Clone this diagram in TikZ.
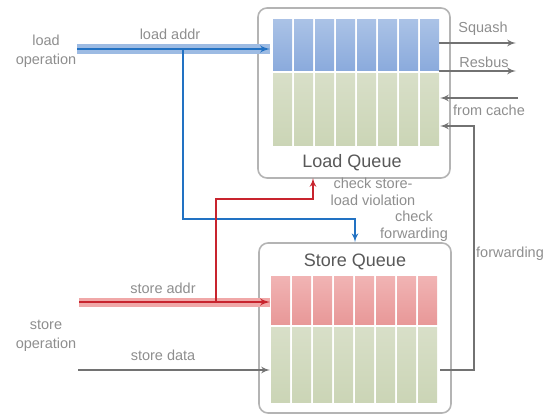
\documentclass[tikz,border=0pt]{standalone}
\usepackage{fontspec}
\setmainfont{Liberation Sans}
\usepackage{tikz}
\usetikzlibrary{arrows,positioning}
\definecolor{txtgray}{HTML}{8E8E8E}
\definecolor{titlegray}{HTML}{585858}
\definecolor{boxgray}{HTML}{B4B4B4}
\definecolor{arrgray}{HTML}{727272}
\definecolor{ldblue}{HTML}{2272C3}
\definecolor{ldband}{HTML}{9DBBE3}
\definecolor{strred}{HTML}{C8242E}
\definecolor{stband}{HTML}{F0A8A8}
\tikzstyle{queue}=[rectangle,rounded corners=9pt,draw=boxgray,line width=1.6pt,minimum width=192pt,minimum height=170pt]
\tikzstyle{title}=[text=titlegray,font=\fontsize{18}{20}\selectfont]
\tikzstyle{lbl}=[text=txtgray,font=\fontsize{14.5}{16}\selectfont,align=center,inner sep=0pt]
\tikzstyle{bluecell}=[top color={rgb,255:red,170;green,194;blue,230},bottom color={rgb,255:red,138;green,170;blue,220}]
\tikzstyle{greencell}=[top color={rgb,255:red,216;green,223;blue,200},bottom color={rgb,255:red,203;green,213;blue,182}]
\tikzstyle{redcell}=[top color={rgb,255:red,241;green,180;blue,180},bottom color={rgb,255:red,232;green,152;blue,152}]

\begin{document}
\begin{tikzpicture}[x=1pt,y=-1pt,>=latex',semithick]
    \useasboundingbox (0,0) rectangle (553,414);

    % queues
    \node[queue] (LQ) at (354,93) {};
    \node[queue] (SQ) at (355,328) {};
    \foreach \i in {0,...,7} {
        \shade[bluecell]  ({273+21*\i},20)  rectangle ++(19,51);
        \shade[greencell] ({273+21*\i},74)  rectangle ++(19,72);
        \shade[redcell]   ({271+21*\i},276) rectangle ++(19,48);
        \shade[greencell] ({271+21*\i},327) rectangle ++(19,75);
    }
    \node[title] (LQt) at (352,163) {Load Queue};
    \node[title] (SQt) at (355,262) {Store Queue};

    % labels
    \node[lbl] (ldop) at (46,51) {load\\[3pt]operation};
    \node[lbl] (stop) at (46,336) {store\\[3pt]operation};
    \node[lbl] (ldad) at (170,34) {load addr};
    \node[lbl] (stad) at (163,288) {store addr};
    \node[lbl] (stdt) at (163,355) {store data};
    \node[lbl] (sqsh) at (483,29) {Squash};
    \node[lbl] (rsb)  at (484,62) {Resbus};
    \node[lbl] (frc)  at (489,110) {from cache};
    \node[lbl] (fwd)  at (510,254) {forwarding};
    \node[lbl] (chv)  at (373,192) {check store-\\[1pt]load violation};
    \node[lbl] (chf)  at (414,226) {check\\[1pt]forwarding};

    % connector ends
    \coordinate (laIn) at (77,49);
    \coordinate (laEnd) at (270,49);
    \coordinate (saIn) at (79,302);
    \coordinate (saEnd) at (270,302);
    \coordinate (sdIn) at (78,370);
    \coordinate (sdEnd) at (270,370);
    \coordinate (lbr) at (183,49);
    \coordinate (lbk) at (183,219);
    \coordinate (sbr) at (216,302);
    \coordinate (sbk) at (216,199);
    \coordinate (lqin) at (313,178);
    \coordinate (sqOut) at (439,43);
    \coordinate (sqEnd) at (516,43);
    \coordinate (rbOut) at (439,71);
    \coordinate (rbEnd) at (516,71);
    \coordinate (fcIn) at (518,98);
    \coordinate (fcEnd) at (440,98);
    \coordinate (fwOut) at (440,370);
    \coordinate (fwTop) at (474,126);
    \coordinate (fwEnd) at (440,126);

    % load / store address
    \draw[ldband,line width=10pt] (laIn) -- (laEnd);
    \draw[->,ldblue,line width=2.4pt] (laIn) -- (laEnd);
    \draw[stband,line width=9pt] (saIn) -- (saEnd);
    \draw[->,strred,line width=2.4pt] (saIn) -- (saEnd);
    \draw[->,ldblue,line width=2pt] (lbr) -- (lbk) -| (SQ.north);
    \draw[->,strred,line width=2pt] (sbr) -- (sbk) -| (lqin);

    % gray paths
    \draw[->,arrgray,line width=2pt] (sdIn) -- (sdEnd);
    \draw[->,arrgray,line width=2pt] (sqOut) -- (sqEnd);
    \draw[->,arrgray,line width=2pt] (rbOut) -- (rbEnd);
    \draw[->,arrgray,line width=2pt] (fcIn) -- (fcEnd);
    \draw[->,arrgray,line width=2pt] (fwOut) -| (fwTop) -- (fwEnd);
\end{tikzpicture}
\end{document}
